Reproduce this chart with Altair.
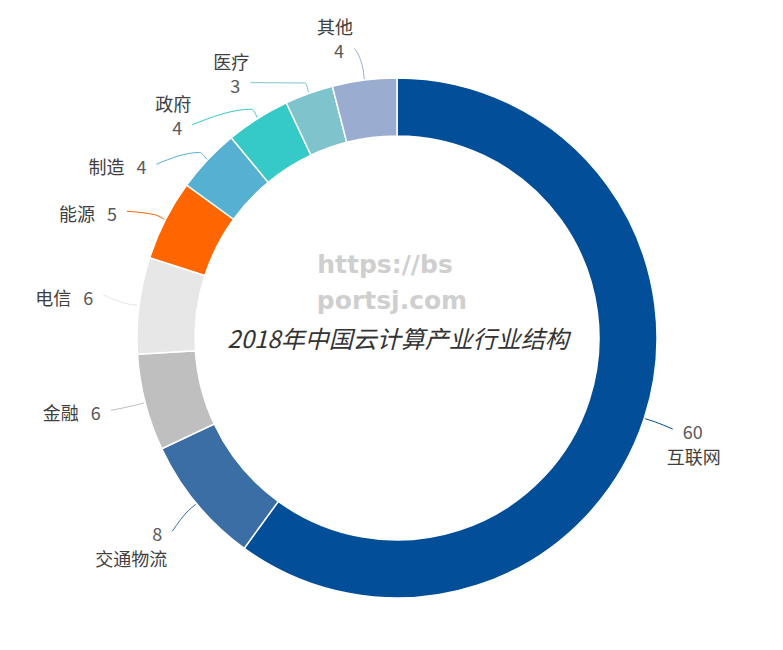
import altair as alt
import pandas as pd

# ---- data ----
categories = ["互联网", "交通物流", "金融", "电信", "能源", "制造", "政府", "医疗", "其他"]
shares = [60, 8, 6, 6, 5, 4, 4, 3, 4]
colors = ["#024E98", "#3B6EA5", "#BFBFBF", "#E7E7E7", "#FF6600", "#55B0D2", "#35C9C7", "#7FC3CD", "#9AACCF"]
title_text = "2018年中国云计算产业行业结构"
watermark_lines = ["https://bs", "portsj.com"]

df = pd.DataFrame({"name": categories, "value": shares, "idx": list(range(len(categories)))})

# ---- layout ----
W, H = 767, 634
CX, CY = 389, 330
R_IN, R_OUT = 202, 260
CJK = "Noto Sans CJK SC"

color = alt.Color("name:N", scale=alt.Scale(domain=categories, range=colors), legend=None)
base = alt.Chart(df)

arcs = base.mark_arc(innerRadius=R_IN, outerRadius=R_OUT, stroke="white", strokeWidth=1.5).encode(
    theta=alt.Theta("value:Q", stack=True),
    order=alt.Order("idx:Q"),
    color=color,
    x=alt.value(CX),
    y=alt.value(CY),
)

# label geometry: mid angle of each slice, with labels of the crowded
# upper-left slices spread out a little (as the original's label layout does)
geo = (
    base.transform_joinaggregate(total="sum(value)")
    .transform_window(cum="sum(value)", sort=[alt.SortField("idx", order="ascending")])
    .transform_calculate(mid="(datum.cum - datum.value / 2) / datum.total * 360")
    .transform_calculate(t="clamp((datum.mid - 272) / 85, 0, 1)")
    .transform_calculate(la="datum.mid - 14.5 * sin(PI * pow(datum.t, 2))")
    .transform_calculate(mode="datum.la >= 310 ? 'C' : (datum.la >= 250 ? 'B' : 'A')")
    .transform_calculate(R="311 - 21 * clamp((datum.la - 290) / 60, 0, 1)")
    .transform_calculate(
        s="sin(datum.la * PI / 180)",
        c="cos(datum.la * PI / 180)",
        sm="sin(datum.mid * PI / 180)",
        cm="cos(datum.mid * PI / 180)",
    )
    .transform_calculate(
        px=f"{CX} + datum.R * datum.s",
        py=f"{CY} - datum.R * datum.c",
        sx=f"{CX} + {R_OUT + 1} * datum.sm",
        sy=f"{CY} - {R_OUT + 1} * datum.cm",
        mx=f"{CX} + {R_OUT + 11} * datum.sm",
        my=f"{CY} - {R_OUT + 11} * datum.cm",
    )
    .transform_calculate(
        ex="datum.px + (datum.s < 0 ? 15 : -20)",
        ey="datum.py - 5",
    )
)

lines = (
    geo.transform_calculate(p0="0", p1="1", p2="2")
    .transform_fold(["p0", "p1", "p2"], as_=["pt", "pv"])
    .transform_calculate(
        lx="datum.pt == 'p0' ? datum.sx : (datum.pt == 'p1' ? datum.mx : datum.ex)",
        ly="datum.pt == 'p0' ? datum.sy : (datum.pt == 'p1' ? datum.my : datum.ey)",
        ord="datum.pt == 'p0' ? 0 : (datum.pt == 'p1' ? 1 : 2)",
    )
    .mark_line(strokeWidth=1, interpolate="monotone")
    .encode(
        x=alt.X("lx:Q", scale=None, axis=None),
        y=alt.Y("ly:Q", scale=None, axis=None),
        detail="name:N",
        order="ord:Q",
        color=color,
    )
)

values = geo.mark_text(fontSize=18, font=CJK, color="#595959", align="center", baseline="middle").encode(
    x=alt.X("px:Q", scale=None, axis=None),
    y=alt.Y("py:Q", scale=None, axis=None),
    text="value:Q",
)

namesA = (
    geo.transform_filter("datum.mode == 'A'")
    .transform_calculate(nx="datum.px + (datum.s < 0 ? -26 : 1)", ny="datum.py + 25")
    .mark_text(fontSize=18, font=CJK, color="#404040", align="center", baseline="middle")
    .encode(x=alt.X("nx:Q", scale=None, axis=None), y=alt.Y("ny:Q", scale=None, axis=None), text="name:N")
)
namesB = (
    geo.transform_filter("datum.mode == 'B'")
    .transform_calculate(nx="datum.px - 17", ny="datum.py")
    .mark_text(fontSize=18, font=CJK, color="#404040", align="right", baseline="middle")
    .encode(x=alt.X("nx:Q", scale=None, axis=None), y=alt.Y("ny:Q", scale=None, axis=None), text="name:N")
)
namesC = (
    geo.transform_filter("datum.mode == 'C'")
    .transform_calculate(nx="datum.px - 4", ny="datum.py - 24")
    .mark_text(fontSize=18, font=CJK, color="#404040", align="center", baseline="middle")
    .encode(x=alt.X("nx:Q", scale=None, axis=None), y=alt.Y("ny:Q", scale=None, axis=None), text="name:N")
)

title = alt.Chart(pd.DataFrame({"t": [title_text]})).mark_text(
    fontSize=24, font=CJK, fontStyle="italic", color="#333333", align="center", baseline="middle"
).encode(text="t:N", x=alt.value(CX + 1), y=alt.value(CY + 3))

wm_df = pd.DataFrame({"w": watermark_lines, "k": [0, 1]})
watermark = alt.Chart(wm_df).transform_calculate(
    wy=f"{CY - 73} + datum.k * 36", wx=f"{CX - 12} + datum.k * 7"
).mark_text(
    fontSize=25, font="DejaVu Sans", fontWeight="bold", color="#CFCFCF", align="center", baseline="middle"
).encode(
    text="w:N",
    x=alt.X("wx:Q", scale=None, axis=None),
    y=alt.Y("wy:Q", scale=None, axis=None),
)

chart = (
    alt.layer(arcs, lines, values, namesA, namesB, namesC, watermark, title)
    .properties(width=W, height=H, padding=0, autosize="none")
    .configure_view(stroke=None)
)

chart.save("out.html", embed_options={"renderer": "svg", "actions": False})
